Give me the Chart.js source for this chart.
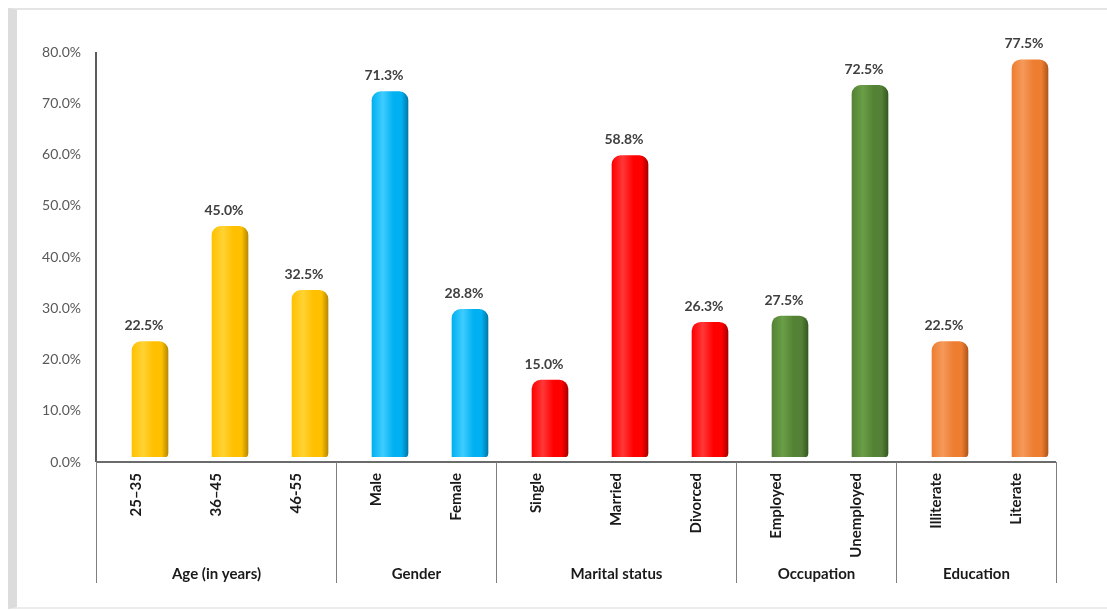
<!DOCTYPE html>
<html>
<head>
<meta charset="utf-8">
<script src="https://cdn.jsdelivr.net/npm/chart.js@4/dist/chart.umd.min.js"></script>
<style>
  body { margin: 0; background: #fff; }
  #frame { position: absolute; left: 8px; top: 8px; width: 1090px; height: 597px;
           border-left: 9px solid #dcdcdc; border-top: 2px solid #e4e4e4; border-bottom: 2px solid #ececec; }
  #wrap { position: absolute; left: 0; top: 0; width: 1107px; height: 611px; }
</style>
</head>
<body>
<div id="frame"></div>
<div id="wrap"><canvas id="chart" width="1107" height="611"></canvas></div>
<script>
// du lieu doc tu hinh
const categories = ['25–35', '36–45', '46-55', 'Male', 'Female', 'Single', 'Married', 'Divorced', 'Employed', 'Unemployed', 'Illiterate', 'Literate'];
const values = [22.5, 45.0, 32.5, 71.3, 28.8, 15.0, 58.8, 26.3, 27.5, 72.5, 22.5, 77.5];
const groups = ['Age (in years)', 'Gender', 'Marital status', 'Occupation', 'Education'];
const groupSizes = [3, 2, 3, 2, 2];
const groupColors = [
    ['#FFC000', '#FFD233', '#B88A00'],
    ['#00B0F0', '#40CCFF', '#0079A8'],
    ['#FF0000', '#FF3838', '#A80000'],
    ['#548235', '#6A9E47', '#365722'],
    ['#ED7D31', '#F5995A', '#B0561A']
];

const FONT = 'Lato, "Liberation Sans", sans-serif';
const SHIFT_X = -14;   // lech 3D cua cot so voi truc
const SHIFT_Y = 5;

// mau cho tung cot theo nhom
const barGroup = [];
groupSizes.forEach((n, g) => { for (let i = 0; i < n; i++) barGroup.push(g); });

function barFill(ctx) {
    const c = groupColors[barGroup[ctx.dataIndex]];
    const xs = ctx.chart.scales.x;
    if (!xs || ctx.type !== 'data') return c[0];
    const cx = xs.getPixelForValue(ctx.dataIndex);
    if (!isFinite(cx)) return c[0];
    const g = ctx.chart.ctx.createLinearGradient(cx - 18, 0, cx + 18, 0);
    g.addColorStop(0, c[0]);
    g.addColorStop(0.3, c[1]);
    g.addColorStop(0.6, c[0]);
    g.addColorStop(0.82, c[0]);
    g.addColorStop(1, c[2]);
    return g;
}

// ve nhan gia tri tren cot
const valueLabels = {
    id: 'valueLabels',
    afterDatasetsDraw(chart) {
        const ctx = chart.ctx;
        const meta = chart.getDatasetMeta(0);
        ctx.save();
        ctx.font = 'bold 14px ' + FONT;
        ctx.fillStyle = '#404040';
        ctx.textAlign = 'center';
        ctx.textBaseline = 'middle';
        meta.data.forEach((el, i) => {
            ctx.fillText(values[i].toFixed(1) + '%', el.x - 6, el.y - 16);
        });
        ctx.restore();
    }
};

// truc, duong phan nhom va ten nhom
const groupAxis = {
    id: 'groupAxis',
    afterDraw(chart) {
        const ctx = chart.ctx;
        const xs = chart.scales.x;
        const area = chart.chartArea;
        const step = xs.width / categories.length;
        const axisY = area.bottom + SHIFT_Y;
        ctx.save();
        // truc y
        ctx.strokeStyle = '#262626';
        ctx.lineWidth = 1.5;
        ctx.beginPath();
        ctx.moveTo(area.left + SHIFT_X, area.top + SHIFT_Y);
        ctx.lineTo(area.left + SHIFT_X, axisY);
        ctx.stroke();
        // truc x
        ctx.strokeStyle = '#6b6b6b';
        ctx.lineWidth = 2;
        ctx.beginPath();
        ctx.moveTo(area.left + SHIFT_X, axisY);
        ctx.lineTo(area.right + SHIFT_X, axisY);
        ctx.stroke();

        ctx.strokeStyle = '#7f7f7f';
        ctx.lineWidth = 1;
        ctx.font = 'bold 15px ' + FONT;
        ctx.fillStyle = '#1a1a1a';
        ctx.textAlign = 'center';
        ctx.textBaseline = 'middle';
        let start = 0;
        const edge = (i) => Math.round(xs.getPixelForValue(i) - step / 2 + SHIFT_X) + 0.5;
        groupSizes.forEach((n, g) => {
            const x0 = edge(start);
            const x1 = edge(start + n);
            ctx.beginPath();
            ctx.moveTo(x0, axisY);
            ctx.lineTo(x0, 583);
            ctx.moveTo(x1, axisY);
            ctx.lineTo(x1, 583);
            ctx.stroke();
            ctx.fillText(groups[g], (x0 + x1) / 2, 574);
            start += n;
        });
        ctx.restore();
    }
};

new Chart(document.getElementById('chart'), {
    type: 'bar',
    data: {
        labels: categories,
        datasets: [{
            data: values,
            backgroundColor: barFill,
            borderWidth: 0,
            borderSkipped: false,
            borderRadius: { topLeft: 9, topRight: 9, bottomLeft: 0, bottomRight: 4 },
            barThickness: 36
        }]
    },
    options: {
        responsive: false,
        animation: false,
        layout: { padding: { top: 47, right: 37, left: 0, bottom: 0 } },
        plugins: { legend: { display: false }, tooltip: { enabled: false } },
        scales: {
            x: {
                grid: { display: false, drawTicks: false },
                border: { display: false },
                ticks: {
                    autoSkip: false, minRotation: 90, maxRotation: 90,
                    padding: 16, labelOffset: SHIFT_X,
                    color: '#1a1a1a', font: { family: FONT, size: 15, weight: 'bold' }
                },
                afterFit(scale) { scale.height = 611 - 457; }
            },
            y: {
                min: 0, max: 80,
                grid: { display: false, drawTicks: false },
                border: { display: false },
                ticks: {
                    stepSize: 10, padding: 29, labelOffset: SHIFT_Y,
                    color: '#595959', font: { family: FONT, size: 14 },
                    callback: v => v.toFixed(1) + '%'
                },
                afterFit(scale) { scale.width = 110; }
            }
        }
    },
    plugins: [valueLabels, groupAxis]
});
</script>
</body>
</html>
